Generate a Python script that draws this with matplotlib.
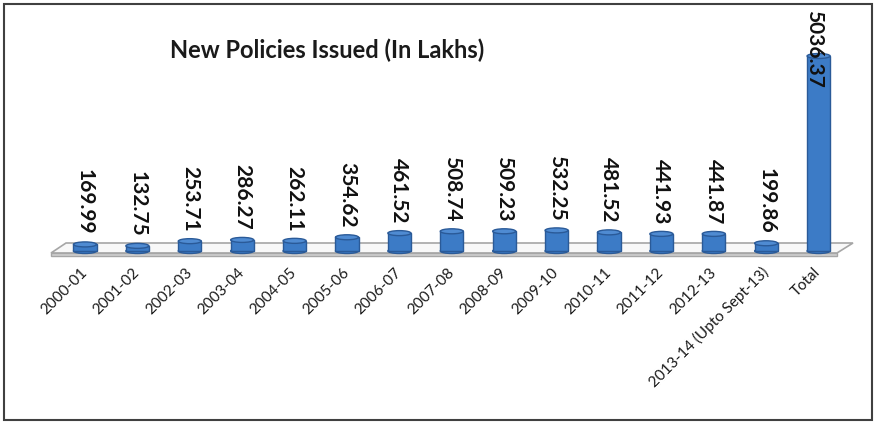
import matplotlib.pyplot as plt
from matplotlib.patches import Ellipse, Polygon, Rectangle

# data
years = ['2000-01', '2001-02', '2002-03', '2003-04', '2004-05', '2005-06',
         '2006-07', '2007-08', '2008-09', '2009-10', '2010-11', '2011-12',
         '2012-13', '2013-14 (Upto Sept-13)', 'Total']
policies = [169.99, 132.75, 253.71, 286.27, 262.11, 354.62, 461.52, 508.74,
            509.23, 532.25, 481.52, 441.93, 441.87, 199.86, 5036.37]
title = 'New Policies Issued (In Lakhs)'

W, H = 876, 424
fig = plt.figure(figsize=(W / 100, H / 100), dpi=100)

#background layer in pixel coords: border + floor
bg = fig.add_axes([0, 0, 1, 1])
bg.set_xlim(0, W)
bg.set_ylim(H, 0)
bg.axis('off')
bg.add_patch(Rectangle((4, 4), W - 8, H - 8, fill=False, ec='#404040', lw=1.5))
bg.add_patch(Polygon([(66, 243), (853, 243), (837, 253), (51, 253)],
                     closed=True, fc='#f8f8f8', ec='#a6a6a6', lw=1.2))
bg.add_patch(Polygon([(51, 253), (837, 253), (837, 256), (51, 256)],
                     closed=True, fc='#d0d0d0', ec='#a6a6a6', lw=1.0))
bg.text(170, 50, title, fontsize=17, fontweight='bold', family='Lato',
        color='#1a1a1a', ha='left', va='center')

#main axes, scaled so the Total bar spans ~195 px
ppu = 195 / policies[-1]
base = 251      # pixel row (from top) of the bar bases
bottom_px = 262
top_px = 20
x0, step = 85, 52.4
left = (x0 - step / 2) / W
ax = fig.add_axes([left, (H - bottom_px) / H, 15 * step / W, (bottom_px - top_px) / H])
ax.set_xlim(-0.5, len(years) - 0.5)
ax.set_ylim(-(bottom_px - base) / ppu, (base - top_px) / ppu)
ax.patch.set_alpha(0)
for s in ax.spines.values():
    s.set_visible(False)
ax.set_yticks([])

xs = list(range(len(years)))
bw = 0.44
eh = 5 / ppu
body_c = '#3c7bc6'
edge_c = '#2a5a98'
top_c = '#4f8bd2'
for x, v in zip(xs, policies):
    ax.add_patch(Ellipse((x, 0), bw, eh, fc=body_c, ec=edge_c, lw=1, zorder=2))
ax.bar(xs, policies, width=bw, color=body_c, edgecolor=edge_c, lw=1, zorder=3)
for x, v in zip(xs, policies):
    ax.add_patch(Ellipse((x, v), bw, eh, fc=top_c, ec=edge_c, lw=1, zorder=4))

#value labels, rotated
for x, v in zip(xs[:-1], policies[:-1]):
    ax.annotate(f'{v:.2f}', (x, v), xytext=(0, 7), textcoords='offset points',
                rotation=-90, ha='center', va='bottom', fontsize=15,
                fontweight='bold', family='Lato', color='#111111', zorder=5)
ax.annotate(f'{policies[-1]:.2f}', (xs[-1], 1), xycoords=('data', 'axes fraction'),
            xytext=(-3, 7), textcoords='offset points', rotation=-90,
            ha='center', va='top', fontsize=15, fontweight='bold',
            family='Lato', color='#111111', zorder=5)

ax.set_xticks(xs)
ax.set_xticklabels(years)
ax.tick_params(axis='x', length=0, pad=6)
plt.setp(ax.get_xticklabels(), rotation=45, ha='right', va='center',
         rotation_mode='anchor', fontsize=11, family='Lato', color='#1a1a1a')

plt.savefig('out.png', dpi=100)
